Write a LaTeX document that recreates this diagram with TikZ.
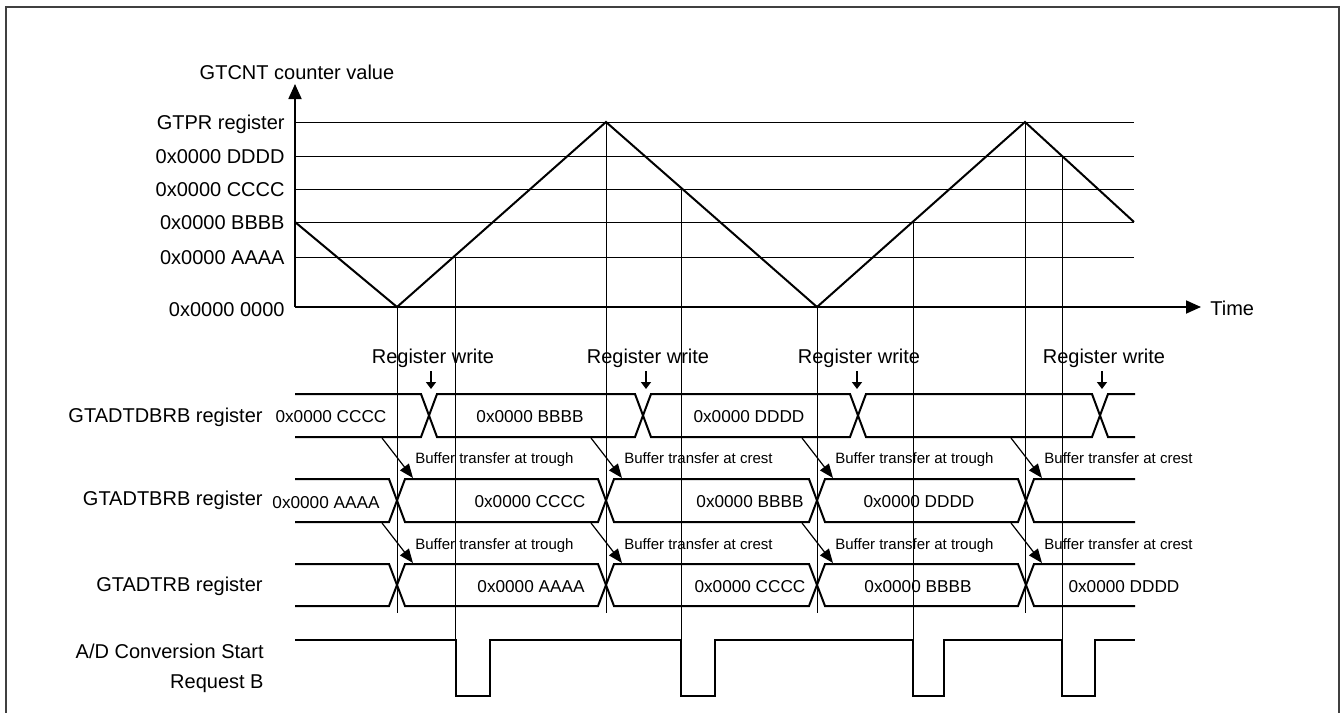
\documentclass[tikz,border=0pt]{standalone}
\usepackage{fontspec}
\setmainfont{Liberation Sans}
\usetikzlibrary{arrows.meta}

\tikzset{
  guide/.style={line width=0.5pt},
  wave/.style={line width=1pt, line join=miter},
  bus/.style={line width=1pt},
  lbl/.style={font=\fontsize{10}{15}\selectfont, inner sep=0pt, text height=7.2pt, text depth=0pt},
  val/.style={font=\fontsize{8.6}{10}\selectfont, inner sep=0pt, text height=6.2pt, text depth=0pt},
  smalltxt/.style={font=\fontsize{7.5}{9}\selectfont, inner sep=0pt, text height=5.4pt, text depth=0pt},
  axis/.style={line width=0.9pt, -{Triangle[length=7.5pt,width=6.5pt]}},
  wr/.style={line width=0.8pt, -{Triangle[length=3.5pt,width=5pt]}},
  xfer/.style={line width=0.6pt, -{Triangle[length=7pt,width=5.5pt]}},
}

\begin{document}
\begin{tikzpicture}[x=0.5pt,y=-0.5pt]
  \useasboundingbox (0,0) rectangle (1341,713);
  \draw[line width=1pt, black!75] (6,7) rectangle (1339,730);

  % counter axes
  \draw[axis] (295,307) -- (295,84);
  \draw[axis] (295,307) -- (1201,307);
  \node[lbl] (ytitle) at (297,72) {GTCNT counter value};
  \node[lbl, anchor=west] (time) at (1210,308) {Time};

  % compare levels
  \foreach \y/\t in {122/GTPR register, 156/0x0000 DDDD, 189/0x0000 CCCC,
                     222/0x0000 BBBB, 257/0x0000 AAAA} {
    \draw[guide] (295,\y) -- (1134,\y);
    \node[lbl, anchor=east] at (285,\y) {\t};
  }
  \node[lbl, anchor=east] (zero) at (285,309) {0x0000 0000};

  % timing lines
  \foreach \x/\a/\b in {397/307/613, 455/257/640, 606/122/613, 681/189/640,
                        817/307/613, 913/222/640, 1025/122/613, 1062/156/640}
    \draw[guide] (\x,\a) -- (\x,\b);

  % GTCNT
  \draw[wave] (295,222) -- (397,307) -- (606,122) -- (817,307) -- (1025,122) -- (1134,222);

  % register labels
  \node[lbl, anchor=east] (tdbr) at (263,415) {GTADTDBRB register};
  \node[lbl, anchor=east] (tbr) at (263,498) {GTADTBRB register};
  \node[lbl, anchor=east] (tr) at (263,584) {GTADTRB register};
  \node[lbl, anchor=east] (adreq) at (264,651) {A/D Conversion Start};
  \node[lbl, anchor=east] (adreqb) at (264,681) {Request B};

  % register writes
  \foreach \x in {431,646,857,1102} {
    \node[lbl] at (\x+2,356) {Register write};
    \draw[wr] (\x,371) -- (\x,389);
  }

  % GTADTDBRB
  \draw[bus] (295,394) -- (421,394) -- (437,437) -- (635,437) -- (651,394) -- (850,394)
    -- (866,437) -- (1092,437) -- (1108,394) -- (1135,394);
  \draw[bus] (295,437) -- (421,437) -- (437,394) -- (635,394) -- (651,437) -- (850,437)
    -- (866,394) -- (1092,394) -- (1108,437) -- (1135,437);
  \node[val] at (331,416) {0x0000 CCCC};
  \node[val] at (530,416) {0x0000 BBBB};
  \node[val] at (749,416) {0x0000 DDDD};

  % GTADTBRB and GTADTRB
  \foreach \t/\b in {479/522, 564/606} {
    \draw[bus] (295,\t) -- (389,\t) -- (405,\b) -- (598,\b) -- (614,\t) -- (809,\t)
      -- (825,\b) -- (1018,\b) -- (1034,\t) -- (1135,\t);
    \draw[bus] (295,\b) -- (389,\b) -- (405,\t) -- (598,\t) -- (614,\b) -- (809,\b)
      -- (825,\t) -- (1018,\t) -- (1034,\b) -- (1135,\b);
  }
  \node[val] at (326,502) {0x0000 AAAA};
  \node[val] at (530,501) {0x0000 CCCC};
  \node[val] at (750,501) {0x0000 BBBB};
  \node[val] at (919,501) {0x0000 DDDD};
  \node[val] at (531,586) {0x0000 AAAA};
  \node[val] at (750,586) {0x0000 CCCC};
  \node[val] at (918,586) {0x0000 BBBB};
  \node[val] at (1124,586) {0x0000 DDDD};

  % buffer transfers
  \foreach \x/\w in {397/trough, 606/crest, 817/trough, 1026/crest} {
    \draw[xfer] (\x-15,438) -- (\x+16,478);
    \draw[xfer] (\x-15,523) -- (\x+16,563);
    \node[smalltxt, anchor=west] at (\x+18,458) {Buffer transfer at \w};
    \node[smalltxt, anchor=west] at (\x+18,544) {Buffer transfer at \w};
  }

  % A/D conversion start request
  \draw[wave] (295,640) -- (456,640) -- (456,696) -- (490,696) -- (490,640) -- (681,640)
    -- (681,696) -- (715,696) -- (715,640) -- (913,640) -- (913,696) -- (944,696)
    -- (944,640) -- (1062,640) -- (1062,696) -- (1095,696) -- (1095,640) -- (1135,640);
\end{tikzpicture}
\end{document}
